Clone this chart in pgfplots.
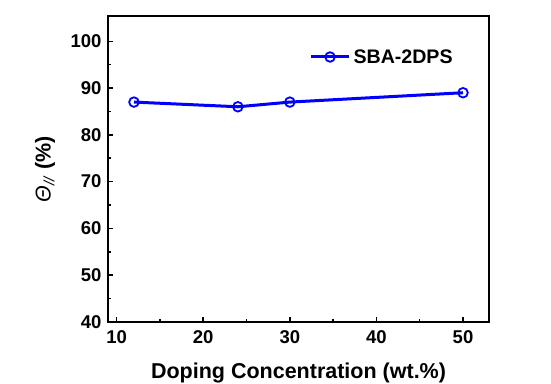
\documentclass[border=0pt]{standalone}
\usepackage{pgfplots}
\pgfplotsset{compat=1.18}
\usepackage{fontspec}
\setmainfont{Liberation Sans}
\begin{document}
\begin{tikzpicture}
\begin{axis}[
  name=ax,
  scale only axis,
  width=381pt, height=306pt,
  xmin=9, xmax=53,
  ymin=40, ymax=105.4,
  xtick={10,20,30,40,50},
  ytick={40,50,60,70,80,90,100},
  minor x tick num=1,
  minor y tick num=1,
  xtick pos=bottom, ytick pos=left,
  tick align=inside,
  major tick length=5pt,
  minor tick length=3pt,
  axis line style={line width=1.8pt},
  every tick/.style={black, line width=1.5pt},
  /pgf/number format/assume math mode=true,
  ticklabel style={font=\bfseries\fontsize{18.5}{20}\selectfont},
  xticklabel style={yshift=-5pt},
  yticklabel style={xshift=-3pt},
  xlabel={\bfseries Doping Concentration (wt.\%)},
  xlabel style={font=\fontsize{21.5}{24}\selectfont, at={(axis description cs:0.5,-0.165)}, anchor=center},
  ylabel={\textit{Θ}\textsubscript{\textit{//}} \textbf{(\%)}},
  ylabel style={font=\fontsize{21.5}{24}\selectfont, at={(axis description cs:-0.165,0.5)}, anchor=center, rotate=0},
  legend style={at={(axis description cs:0.913,0.866)}, anchor=east, draw=none, fill=none,
    font=\bfseries\fontsize{19.6}{22}\selectfont, inner sep=0pt,
    nodes={inner sep=3pt}},
  legend image code/.code={\draw[mark repeat=2,mark phase=2,#1] plot coordinates {(0pt,0pt)(19pt,0pt)(38pt,0pt)};},
]
\addplot[color={rgb,255:red,0;green,0;blue,255}, line width=3pt,
  mark=o, mark size=4.8pt, mark options={fill=white, line width=1.8pt}]
  coordinates {(12,87) (24,86) (30,87) (50,89)};
\addlegendentry{SBA-2DPS}
\end{axis}
\pgfresetboundingbox
\path[use as bounding box] ([shift={(-108pt,-61pt)}]ax.south west) rectangle ([shift={(62pt,16pt)}]ax.north east);
\end{tikzpicture}
\end{document}
